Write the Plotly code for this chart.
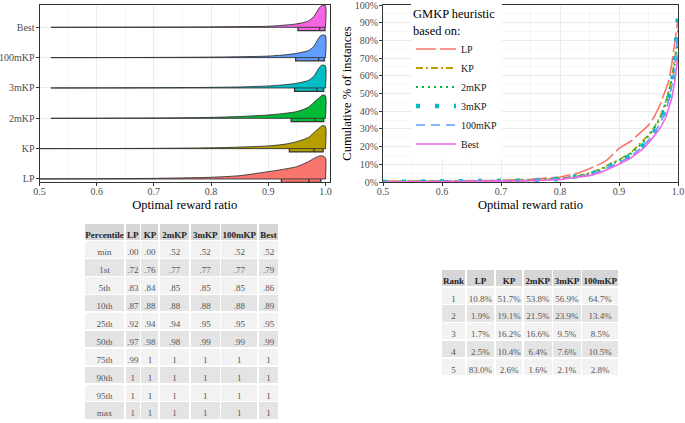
import plotly.graph_objects as go

FONT = "Liberation Serif"

# ---------------- data ----------------
heuristics = ["LP", "KP", "2mKP", "3mKP", "100mKP", "Best"]
colors = ["#F8766D", "#B79F00", "#00BA38", "#00BFC4", "#619CFF", "#F564E3"]

# half-violin density heights (in units of row spacing)
dens_x = [0.6, 0.7, 0.8, 0.85, 0.9, 0.93, 0.95, 0.97, 0.98, 0.99, 0.995, 1.0]
dens_LP = [0.007, 0.02, 0.056, 0.109, 0.241, 0.33, 0.406, 0.571, 0.677, 0.759, 0.759, 0.693]
dens_KP = [0.003, 0.01, 0.026, 0.05, 0.089, 0.149, 0.231, 0.363, 0.528, 0.693, 0.759, 0.726]
dens_2mKP = [0.003, 0.01, 0.03, 0.059, 0.109, 0.165, 0.221, 0.363, 0.528, 0.693, 0.769, 0.743]
dens_3mKP = [0.002, 0.007, 0.02, 0.033, 0.066, 0.109, 0.155, 0.248, 0.396, 0.693, 0.759, 0.726]
dens_100mKP = [0.002, 0.007, 0.017, 0.03, 0.05, 0.092, 0.142, 0.231, 0.38, 0.693, 0.746, 0.726]
dens_Best = [0.002, 0.005, 0.013, 0.023, 0.033, 0.073, 0.112, 0.205, 0.363, 0.66, 0.726, 0.71]
densities = [dens_LP, dens_KP, dens_2mKP, dens_3mKP, dens_100mKP, dens_Best]
data_min = [0.0, 0.0, 0.52, 0.52, 0.52, 0.52]

# boxplot statistics
box_q1 = [0.923, 0.937, 0.940, 0.946, 0.948, 0.952]
box_median = [0.971, 0.980, 0.982, 0.985, 0.988, 0.990]
box_q3 = [0.992, 0.996, 0.997, 0.997, 0.998, 0.999]

# empirical CDFs (% of instances)
ecdf_x = [0.5, 0.52, 0.6, 0.7, 0.75, 0.8, 0.83, 0.85, 0.87, 0.88, 0.89, 0.9, 0.92,
          0.94, 0.95, 0.96, 0.97, 0.98, 0.985, 0.99, 0.995, 1.0]
ecdf_LP = [0.4, 0.5, 0.6, 0.9, 1.5, 2.8, 5, 7.5, 10.5, 12.5, 15.5, 19, 23, 29, 32, 37,
           44, 53, 58, 68, 80, 92]
ecdf_KP = [0.3, 0.4, 0.5, 0.7, 1.0, 2.0, 3.5, 5, 7.5, 9.5, 11, 12.5, 16.5, 23, 26.5, 31,
           37, 46, 52, 60, 70, 82]
ecdf_2mKP = [0, 0.1, 0.4, 0.6, 0.9, 1.9, 3.3, 4.7, 7, 9, 10.5, 12, 16, 22, 26, 30.5,
             36, 45, 51, 59, 68, 80]
ecdf_3mKP = [0, 0.1, 0.35, 0.55, 0.8, 1.8, 3, 4.3, 6.5, 8.3, 9.8, 11.3, 15, 20.5, 24,
             28.5, 34, 42, 48, 56, 70, 94]
ecdf_100mKP = [0, 0.1, 0.35, 0.55, 0.8, 1.7, 2.9, 4.2, 6.3, 8, 9.5, 11, 14.5, 20, 23.5,
               28, 33, 41, 47, 55, 66, 86]
ecdf_Best = [0, 0.1, 0.3, 0.5, 0.7, 1.4, 2.5, 3.6, 5.5, 7, 8.5, 10, 13.5, 18.5, 22, 26,
             30.5, 37, 42, 48, 58, 72]
ecdfs = [ecdf_LP, ecdf_KP, ecdf_2mKP, ecdf_3mKP, ecdf_100mKP, ecdf_Best]
ecdf_dash = ["20px,4px", "7px,3px,2px,3px", "2px,4px", "4px,15px", "9px,6px", "solid"]
ecdf_width = [1.6, 1.8, 2.0, 4.5, 1.6, 1.6]

# tables
pct_labels = ["min", "1st", "5th", "10th", "25th", "50th", "75th", "90th", "95th", "max"]
pct_LP = [".00", ".72", ".83", ".87", ".92", ".97", ".99", "1", "1", "1"]
pct_KP = [".00", ".76", ".84", ".88", ".94", ".98", "1", "1", "1", "1"]
pct_2mKP = [".52", ".77", ".85", ".88", ".94", ".98", "1", "1", "1", "1"]
pct_3mKP = [".52", ".77", ".85", ".88", ".95", ".99", "1", "1", "1", "1"]
pct_100mKP = [".52", ".77", ".85", ".88", ".95", ".99", "1", "1", "1", "1"]
pct_Best = [".52", ".79", ".86", ".89", ".95", ".99", "1", "1", "1", "1"]

rank_labels = ["1", "2", "3", "4", "5"]
rank_LP = ["10.8%", "1.9%", "1.7%", "2.5%", "83.0%"]
rank_KP = ["51.7%", "19.1%", "16.2%", "10.4%", "2.6%"]
rank_2mKP = ["53.8%", "21.5%", "16.6%", "6.4%", "1.6%"]
rank_3mKP = ["56.9%", "23.9%", "9.5%", "7.6%", "2.1%"]
rank_100mKP = ["64.7%", "13.4%", "8.5%", "10.5%", "2.8%"]

# ---------------- figure ----------------
W, H = 685, 423
fig = go.Figure()

positions = list(range(1, len(heuristics) + 1))
for i, name in enumerate(heuristics):
    c = positions[i]
    xs = [data_min[i]] + dens_x + [1.0]
    ys = [c] + [c + h for h in densities[i]] + [c]
    fig.add_trace(go.Scatter(
        x=xs, y=ys, mode="lines", fill="toself", fillcolor=colors[i],
        line=dict(color="#333333", width=0.9, shape="spline", smoothing=0.7),
        xaxis="x", yaxis="y", showlegend=False, hoverinfo="skip"))
    fig.add_trace(go.Scatter(
        x=[data_min[i], 1.0], y=[c, c], mode="lines",
        line=dict(color="#333333", width=0.9),
        xaxis="x", yaxis="y", showlegend=False, hoverinfo="skip"))

for i, name in enumerate(heuristics):
    fig.add_trace(go.Box(
        orientation="h", y=[positions[i]], q1=[box_q1[i]], median=[box_median[i]],
        q3=[box_q3[i]], lowerfence=[box_q1[i]], upperfence=[box_q3[i]],
        width=0.22, whiskerwidth=0, fillcolor=colors[i],
        line=dict(color="#333333", width=1.3), boxpoints=False,
        xaxis="x", yaxis="y", showlegend=False, hoverinfo="skip"))

for i, name in enumerate(heuristics):
    fig.add_trace(go.Scatter(
        x=ecdf_x, y=ecdfs[i], mode="lines", name=name,
        line=dict(color=colors[i], width=ecdf_width[i], dash=ecdf_dash[i]),
        xaxis="x2", yaxis="y2", hoverinfo="skip"))

hdr_font = dict(family=FONT, size=9, color="#222222", weight="bold")
body_font = dict(family=FONT, size=9, color="#555555")

cell_fill = [["#f2f2f2" if k % 2 == 0 else "#e4e4e4" for k in range(10)]]
fig.add_trace(go.Table(
    domain=dict(x=[84 / W, 279.5 / W], y=[0.0, 1 - 223 / H]),
    columnwidth=[41, 15.7, 18.6, 30.7, 30.7, 37.6, 21],
    header=dict(values=["Percentile"] + heuristics,
                fill_color="#d6d6d6", line=dict(color="white", width=1.5),
                font=hdr_font, height=17.6, align="center"),
    cells=dict(values=[pct_labels, pct_LP, pct_KP, pct_2mKP, pct_3mKP, pct_100mKP, pct_Best],
               fill_color=cell_fill, line=dict(color="white", width=1.5),
               font=body_font, height=17.9, align="center")))

cell_fill2 = [["#f2f2f2" if k % 2 == 0 else "#e4e4e4" for k in range(5)]]
fig.add_trace(go.Table(
    domain=dict(x=[441 / W, 619.5 / W], y=[0.05, 1 - 269 / H]),
    columnwidth=[25, 29, 28.3, 29.4, 29, 37.6],
    header=dict(values=["Rank", "LP", "KP", "2mKP", "3mKP", "100mKP"],
                fill_color="#d6d6d6", line=dict(color="white", width=1.5),
                font=hdr_font, height=17.8, align="center"),
    cells=dict(values=[rank_labels, rank_LP, rank_KP, rank_2mKP, rank_3mKP, rank_100mKP],
               fill_color=cell_fill2, line=dict(color="white", width=1.5),
               font=body_font, height=17.8, align="center")))

axis_common = dict(showline=True, linecolor="#333333", linewidth=1, mirror=True,
                   ticks="outside", ticklen=3, tickcolor="#333333",
                   gridcolor="#ebebeb", gridwidth=1, zeroline=False,
                   automargin=False, ticklabeloverflow="allow",
                   tickfont=dict(family=FONT, size=10, color="#4d4d4d"))

fig.update_layout(
    width=W, height=H, margin=dict(l=0, r=0, t=0, b=0, autoexpand=False),
    paper_bgcolor="white", plot_bgcolor="white",
    font=dict(family=FONT, color="black"),
    xaxis=dict(domain=[39.5 / W, 330 / W], range=[0.5, 1.008], dtick=0.1,
               tickformat=".1f", anchor="y", ticklabelstandoff=-3,
               minor=dict(showgrid=True, dtick=0.05, gridcolor="#f0f0f0", gridwidth=0.6),
               title=dict(text="Optimal reward ratio", standoff=4,
                          font=dict(family=FONT, size=12.5, color="black")),
               **axis_common),
    yaxis=dict(domain=[1 - 182 / H, 1 - 5 / H], range=[0.9, 6.735], anchor="x",
               tickmode="array", tickvals=positions, ticktext=heuristics,
               ticklabelstandoff=-1,
               **axis_common),
    xaxis2=dict(domain=[383 / W, 678 / W], range=[0.5, 1.0], dtick=0.1,
                tickformat=".1f", anchor="y2", ticklabelstandoff=-3,
                minor=dict(showgrid=True, dtick=0.05, gridcolor="#f0f0f0", gridwidth=0.6),
                title=dict(text="Optimal reward ratio", standoff=4,
                           font=dict(family=FONT, size=12.5, color="black")),
                **axis_common),
    yaxis2=dict(domain=[1 - 182 / H, 1 - 5 / H], range=[0, 100], dtick=10,
                ticksuffix="%", anchor="x2", ticklabelstandoff=-1,
                minor=dict(showgrid=True, dtick=5, gridcolor="#f0f0f0", gridwidth=0.6),
                title=dict(text="Cumulative % of instances", standoff=0,
                           font=dict(family=FONT, size=12.5, color="black")),
                **axis_common),
    legend=dict(x=411 / W, y=1 - 2 / H, xanchor="left", yanchor="top",
                bgcolor="white", borderwidth=0, itemwidth=40, tracegroupgap=0,
                font=dict(family=FONT, size=10, color="#1a1a1a"),
                title=dict(text="GMKP heuristic<br>based on:",
                           font=dict(family=FONT, size=12.5, color="black"))),
)

fig.write_html("out.html", config={"displayModeBar": False, "staticPlot": True},
               post_script="document.body.style.margin='0';")
